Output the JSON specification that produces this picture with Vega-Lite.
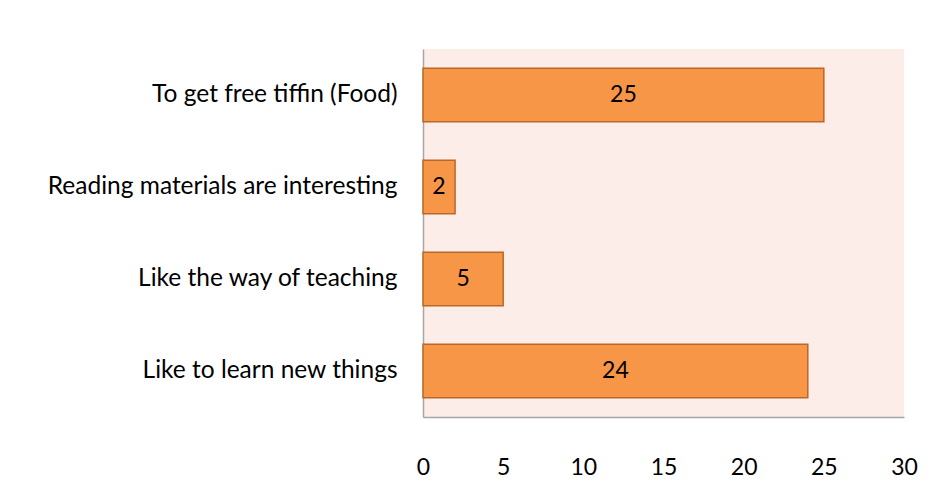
{
  "$schema": "https://vega.github.io/schema/vega-lite/v6.json",
  "autosize": "none",
  "width": 481,
  "height": 368,
  "padding": {"left": 423, "top": 49, "right": 31, "bottom": 70},
  "background": "white",
  "data": {"values": [
    {"reason": "To get free tiffin (Food)", "count": 25},
    {"reason": "Reading materials are interesting", "count": 2},
    {"reason": "Like the way of teaching", "count": 5},
    {"reason": "Like to learn new things", "count": 24}
  ]},
  "encoding": {
    "y": {"field": "reason", "type": "nominal", "sort": null, "title": null,
      "scale": {"paddingInner": 0.42, "paddingOuter": 0.21},
      "axis": {"ticks": false, "domainColor": "#A6A6A6", "domainWidth": 1.5, "labelPadding": 26, "labelFont": "Lato", "labelFontSize": 24.5, "labelColor": "#000000", "labelLimit": 420}}
  },
  "layer": [
    {"mark": {"type": "bar", "color": "#F79646", "stroke": "#B9682A", "strokeWidth": 1.5},
     "encoding": {"x": {"field": "count", "type": "quantitative", "title": null,
      "scale": {"domain": [0, 30], "nice": false},
      "axis": {"values": [0, 5, 10, 15, 20, 25, 30], "ticks": false, "grid": false, "domainColor": "#A6A6A6", "domainWidth": 1.5, "labelPadding": 39, "labelFont": "Lato", "labelFontSize": 23, "labelColor": "#000000", "labelFlush": false}}}},
    {"mark": {"type": "text", "font": "Lato", "fontSize": 23, "color": "#000000"},
     "encoding": {"x": {"field": "count", "type": "quantitative", "scale": {"domain": [0, 60], "nice": false, "zero": true}, "axis": null}, "text": {"field": "count"}}}
  ],
  "resolve": {"scale": {"x": "independent"}, "axis": {"x": "independent"}},
  "config": {"view": {"fill": "#FCEDE8", "stroke": null}}
}
